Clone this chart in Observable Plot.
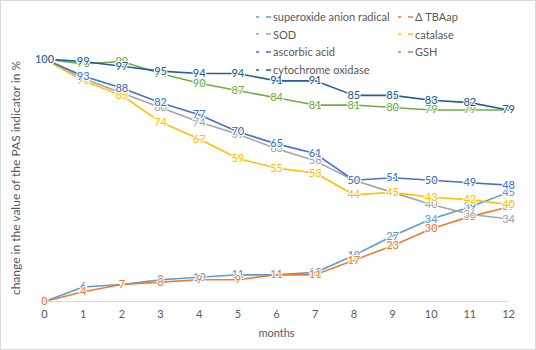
<!DOCTYPE html>
<html><head><meta charset="utf-8">
<script src="https://cdn.jsdelivr.net/npm/d3@7"></script>
<script src="https://cdn.jsdelivr.net/npm/@observablehq/plot@0.6"></script>
<style>
body{margin:0;background:#fff;}
#wrap{position:relative;width:536px;height:350px;font-family:Lato,"Open Sans",sans-serif;}
#frame{position:absolute;left:0;top:0;width:536px;height:350px;box-sizing:border-box;border:1px solid #d9d9d9;pointer-events:none;}
#legend{position:absolute;left:256px;top:8px;display:grid;grid-template-columns:142px auto;font-size:11px;color:#595959;}
.item{height:17.6px;display:flex;align-items:center;white-space:nowrap;}
.item svg{margin-right:2px;}
</style></head><body><div id="wrap"></div>
<script>
const months = [0, 1, 2, 3, 4, 5, 6, 7, 8, 9, 10, 11, 12];
const seriesNames = ["superoxide anion radical", "Δ TBAap", "SOD", "catalase", "ascorbic acid", "GSH", "cytochrome oxidase"];
const colors = ["#5B9BD5", "#ED7D31", "#A5A5A5", "#FFC000", "#4472C4", "#70AD47", "#255E91"];
const superoxide = [0, 6, 7, 9, 10, 11, 11, 12, 19, 27, 34, 39, 45];
const tbaap = [0, 4, 7, 8, 9, 9, 11, 11, 17, 23, 30, 35, 39];
const sod = [100, 92, 86, 80, 74, 69, 63, 58, 50, 45, 40, 36, 34];
const catalase = [100, 91, 85, 74, 67, 59, 55, 53, 44, 45, 43, 42, 40];
const ascorbic = [100, 93, 88, 82, 77, 70, 65, 61, 50, 51, 50, 49, 48];
const gsh = [100, 98, 99, 94, 90, 87, 84, 81, 81, 80, 79, 79, 79];
const cytochrome = [100, 99, 97, 95, 94, 94, 91, 91, 85, 85, 83, 82, 79];
const xTitle = "months";
const yTitle = "change in the value of the PAS indicator in %";

const seriesValues = [superoxide, tbaap, sod, catalase, ascorbic, gsh, cytochrome];
const rows = [];
seriesNames.forEach((s, i) => months.forEach((m, j) => rows.push({series: s, month: m, value: seriesValues[i][j]})));

const chart = Plot.plot({
  width: 536, height: 350,
  marginLeft: 44, marginRight: 28, marginTop: 10, marginBottom: 49,
  style: {fontFamily: "Lato, 'Open Sans', sans-serif", fontSize: "10.5px", color: "#595959", background: "white"},
  x: {domain: [0, 12]},
  y: {domain: [0, 120], axis: null},
  color: {domain: seriesNames, range: colors},
  marks: [
    Plot.ruleY([0], {stroke: "#d9d9d9", strokeWidth: 1}),
    Plot.axisX({ticks: months, tickFormat: d => String(d), tickSize: 0, tickPadding: 9, fill: "#595959", label: null, fontSize: 11}),
    Plot.text([xTitle], {frameAnchor: "bottom", lineAnchor: "middle", dy: 32, fill: "#595959", fontSize: 11}),
    Plot.text([yTitle], {frameAnchor: "left", textAnchor: "middle", lineAnchor: "middle", rotate: -90, dx: -28, dy: 22, fill: "#595959", fontSize: 12}),
    Plot.line(rows, {x: "month", y: "value", z: "series", stroke: "series", strokeWidth: 1.6}),
    Plot.text(rows, {x: "month", y: "value", text: d => String(d.value), fill: "series", stroke: "white", strokeWidth: 2, paintOrder: "stroke", fontSize: 11, fontWeight: 500})
  ]
});

const wrap = document.getElementById("wrap");
wrap.appendChild(chart);
const legend = document.createElement("div");
legend.id = "legend";
seriesNames.forEach((s, i) => {
  const it = document.createElement("div");
  it.className = "item";
  it.innerHTML = `<svg width="15" height="6"><line x1="0" y1="3" x2="15" y2="3" stroke="${colors[i]}" stroke-width="1.6" stroke-dasharray="3,7,5"/></svg><span></span>`;
  it.querySelector("span").textContent = s;
  legend.appendChild(it);
});
wrap.appendChild(legend);
const frame = document.createElement("div");
frame.id = "frame";
wrap.appendChild(frame);
</script>
</body></html>
